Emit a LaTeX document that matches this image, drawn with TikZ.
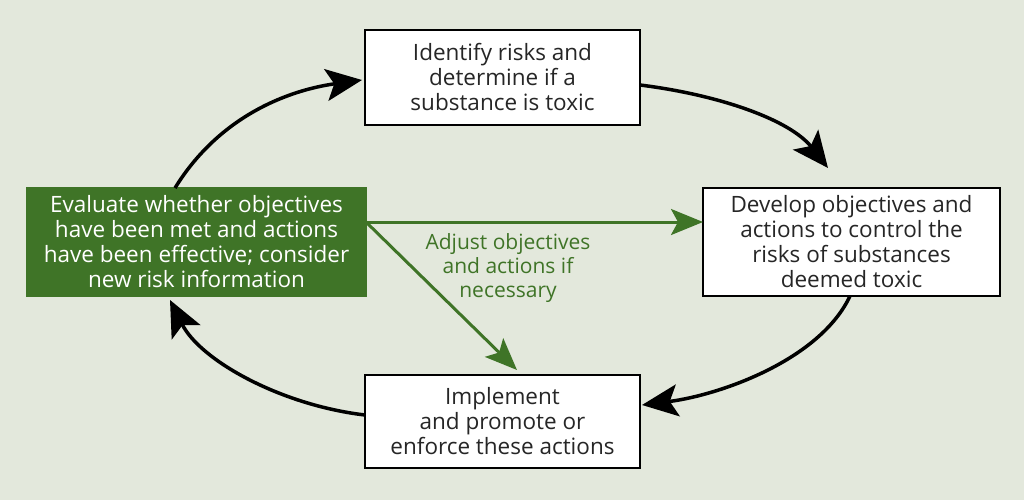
\documentclass[tikz,border=0pt]{standalone}
\usepackage{fontspec}
\setmainfont{Open Sans}
\usetikzlibrary{arrows.meta}
\definecolor{bg}{HTML}{E3E8DC}
\definecolor{gr}{HTML}{3F7427}
\begin{document}
\begin{tikzpicture}[x=1pt,y=-1pt,
  box/.style={draw=black,line width=1.3pt,fill=white,align=center,inner sep=0pt,font=\fontsize{22.5}{25}\selectfont,text=black!85},
  cyc/.style={line width=3.5pt,-{Stealth[length=36pt,width=32pt,inset=8pt]}},
  garr/.style={gr,line width=3pt,-{Stealth[length=32pt,width=26pt,inset=7pt]}}]
\fill[bg] (0,0) rectangle (1024,500);
\useasboundingbox (0,0) rectangle (1024,500);
\node[box,minimum width=275pt,minimum height=95pt] (top) at (502.5,77.5) {Identify risks and\\determine if a\\substance is toxic};
\node[box,minimum width=297pt,minimum height=108pt] (right) at (851.5,242) {Develop objectives and\\actions to control the\\risks of substances\\deemed toxic};
\node[box,minimum width=275pt,minimum height=93pt] (bot) at (502.5,421.5) {Implement\\and promote or\\enforce these actions};
\node[box,draw=gr,fill=gr,text=white,minimum width=339pt,minimum height=108pt] (left) at (196.5,242) {Evaluate whether objectives\\have been met and actions\\have been effective; consider\\new risk information};
\coordinate (a1) at (175,188);
\coordinate (a1e) at (362,80);
\draw[cyc] (a1) .. controls (220,115) and (290,90) .. (a1e);
\coordinate (a2) at (640,85);
\coordinate (a2e) at (828,168);
\draw[cyc] (a2) .. controls (720,95) and (790,120) .. (a2e);
\coordinate (a3) at (850,296);
\coordinate (a3e) at (642,405);
\draw[cyc] (a3) .. controls (820,360) and (720,395) .. (a3e);
\coordinate (a4) at (365,415);
\coordinate (a4e) at (170,300);
\draw[cyc] (a4) .. controls (280,405) and (200,360) .. (a4e);
\coordinate (g0) at (366,222);
\coordinate (g1) at (703,222);
\coordinate (g2) at (517,370);
\draw[garr] (g0) -- (g1);
\draw[garr] (g0) -- (g2);
\node[align=center,text=gr,font=\fontsize{21}{24}\selectfont] (adj) at (508,268) {Adjust objectives\\and actions if\\necessary};
\end{tikzpicture}
\end{document}
